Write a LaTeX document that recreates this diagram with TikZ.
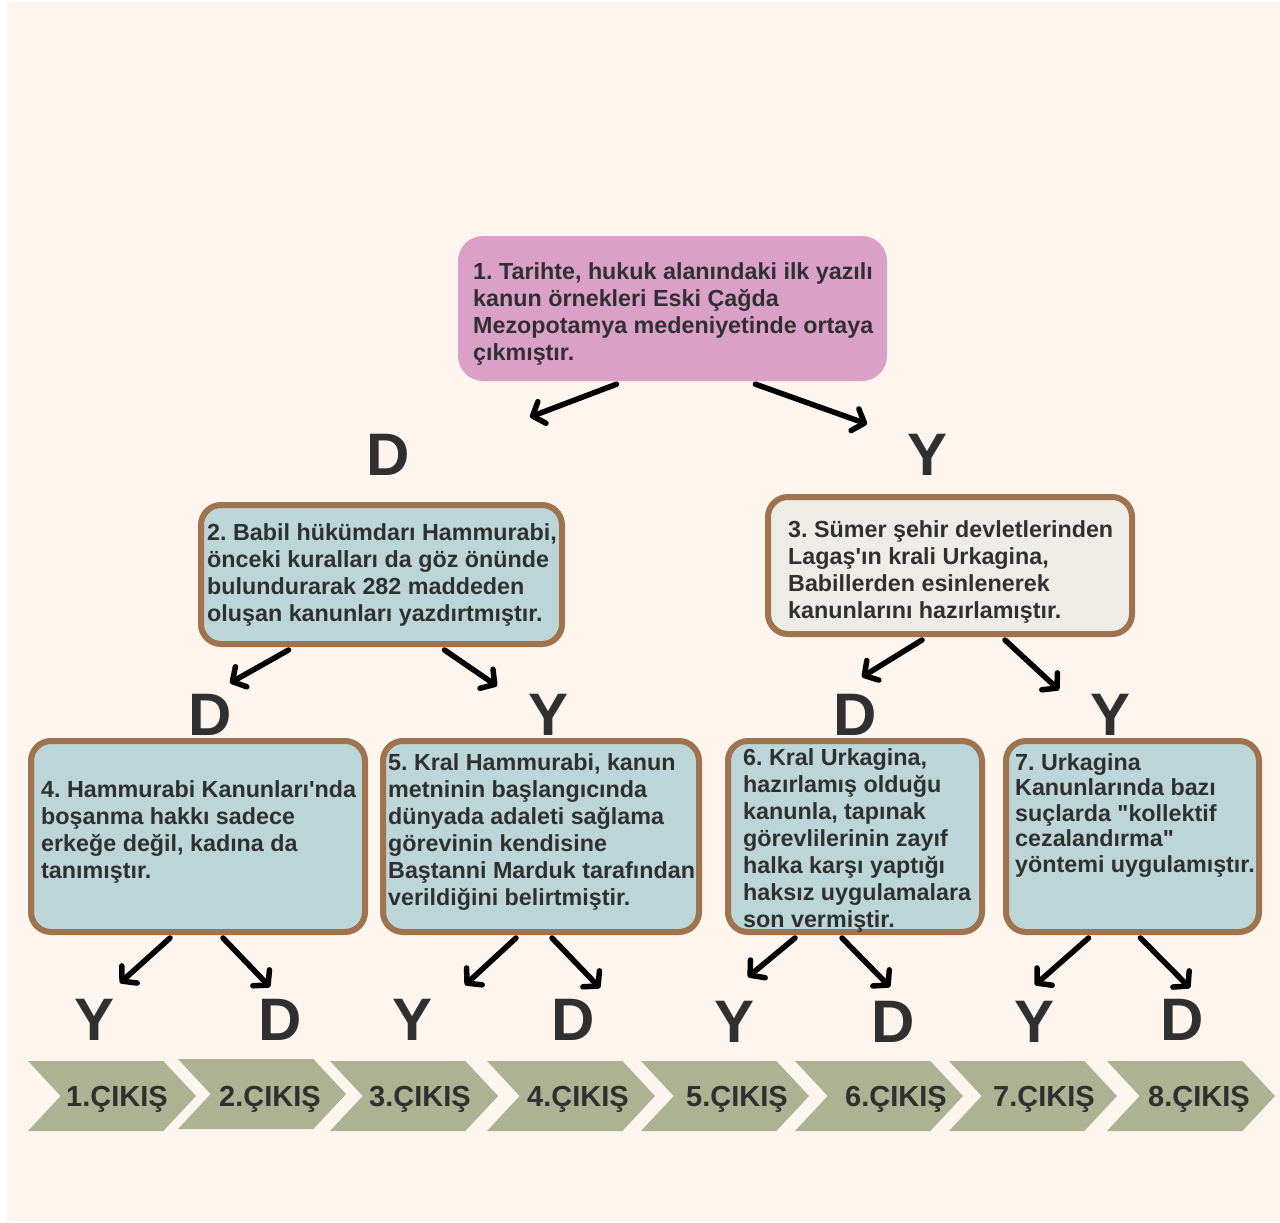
\documentclass[tikz,border=0pt]{standalone}
\usepackage{fontspec}
\setmainfont{Liberation Sans}[Ligatures=TeXOff]
\usepackage{tikz}
\usetikzlibrary{positioning,arrows.meta,calc,shapes.symbols}
\frenchspacing

\definecolor{cream}{HTML}{FEF5EE}
\definecolor{rosebox}{HTML}{DBA0C7}
\definecolor{bluebox}{HTML}{BBD5D8}
\definecolor{greybox}{HTML}{EDECE7}
\definecolor{frame}{HTML}{9E734E}
\definecolor{olive}{HTML}{ADB292}
\definecolor{ink}{HTML}{303030}

\tikzset{
  qbox/.style={draw=frame, line width=6pt, rounded corners=20pt, inner sep=0pt},
  qtext/.style={inner sep=0pt, align=left, text=ink, anchor=base west,
    font=\bfseries\fontsize{23.3}{27}\selectfont},
  answer/.style={text=ink, inner sep=0pt, font=\bfseries\fontsize{60}{60}\selectfont},
  go/.style={line width=5.5pt, line cap=round,
    -{Straight Barb[length=10pt,width=23pt,round]}},
  exit/.style={shape=signal, signal from=west, signal to=east,
    signal pointer angle=94, fill=olive, minimum width=168pt,
    minimum height=70pt, inner sep=0pt},
  exitlabel/.style={text=ink, inner sep=0pt, text depth=0pt,
    font=\bfseries\fontsize{29}{29}\selectfont}
}

\begin{document}
\begin{tikzpicture}[x=1pt, y=-1pt]

  \useasboundingbox (0,0) rectangle (1280,1223);
  \fill[white] (0,0) rectangle (1280,1223);
  \fill[cream] (7,2) rectangle (1280,1221);

  % question boxes
  \node[fill=rosebox, rounded corners=25pt, inner sep=0pt,
    minimum width=429pt, minimum height=145pt] (b1) at (672.5,308.5) {};
  \node[qbox, fill=bluebox, minimum width=361pt, minimum height=139pt] (b2) at (381.5,574.5) {};
  \node[qbox, fill=greybox, minimum width=364pt, minimum height=137pt] (b3) at (950,565.5) {};
  \node[qbox, fill=bluebox, minimum width=334pt, minimum height=191pt] (b4) at (198,836.5) {};
  \node[qbox, fill=bluebox, minimum width=316pt, minimum height=191pt] (b5) at (541,836.5) {};
  \node[qbox, fill=bluebox, minimum width=254pt, minimum height=191pt] (b6) at (855,836.5) {};
  \node[qbox, fill=bluebox, minimum width=253pt, minimum height=191pt] (b7) at (1132.5,836.5) {};

  % texts, placed at the baseline of their last line
  \node[qtext] (t1) at (473,360) {1. Tarihte, hukuk alanındaki ilk yazılı\\
    kanun örnekleri Eski Çağda\\
    Mezopotamya medeniyetinde ortaya\\
    çıkmıştır.};
  \node[qtext] (t2) at (207,621) {2. Babil hükümdarı Hammurabi,\\
    önceki kuralları da göz önünde\\
    bulundurarak 282 maddeden\\
    oluşan kanunları yazdırtmıştır.};
  \node[qtext] (t3) at (788,618) {3. Sümer şehir devletlerinden\\
    Lagaş'ın krali Urkagina,\\
    Babillerden esinlenerek\\
    kanunlarını hazırlamıştır.};
  \node[qtext] (t4) at (41,878) {4. Hammurabi Kanunları'nda\\
    boşanma hakkı sadece\\
    erkeğe değil, kadına da\\
    tanımıştır.};
  \node[qtext] (t5) at (388,905) {5. Kral Hammurabi, kanun\\
    metninin başlangıcında\\
    dünyada adaleti sağlama\\
    görevinin kendisine\\
    Baştanni Marduk tarafından\\
    verildiğini belirtmiştir.};
  \node[qtext] (t6) at (743,927) {6. Kral Urkagina,\\
    hazırlamış olduğu\\
    kanunla, tapınak\\
    görevlilerinin zayıf\\
    halka karşı yaptığı\\
    haksız uygulamalara\\
    son vermiştir.};
  \node[qtext, font=\bfseries\fontsize{23.3}{25.5}\selectfont] (t7) at (1015,872) {7. Urkagina\\
    Kanunlarında bazı\\
    suçlarda "kollektif\\
    cezalandırma"\\
    yöntemi uygulamıştır.};

  % answers
  \node[answer] (l1) at (388,455) {D};
  \node[answer] (l2) at (927,455) {Y};
  \node[answer] (l3) at (210,715) {D};
  \node[answer] (l4) at (549,715) {Y};
  \node[answer] (l5) at (855,715) {D};
  \node[answer] (l6) at (1110,715) {Y};
  \node[answer] (l7) at (95,1020) {Y};
  \node[answer] (l8) at (280,1020) {D};
  \node[answer] (l9) at (413,1020) {Y};
  \node[answer] (l10) at (573,1020) {D};
  \node[answer] (l11) at (735,1022) {Y};
  \node[answer] (l12) at (893,1022) {D};
  \node[answer] (l13) at (1034,1022) {Y};
  \node[answer] (l14) at (1182,1020) {D};

  % arrow ends
  \coordinate (a1) at (530,417);
  \coordinate (a2) at (867,424);
  \coordinate (a3) at (230,683);
  \coordinate (a4) at (497,686);
  \coordinate (a5) at (862,677);
  \coordinate (a6) at (1059,690);
  \coordinate (a7) at (120,983);
  \coordinate (a8) at (270,987);
  \coordinate (a9) at (465,985);
  \coordinate (a10) at (600,988);
  \coordinate (a11) at (748,977);
  \coordinate (a12) at (890,987);
  \coordinate (a13) at (1035,985);
  \coordinate (a14) at (1190,988);

  \path[go] ([xshift=-56pt,yshift=-3pt]b1.south) edge (a1);
  \path[go] ([xshift=83pt,yshift=-3pt]b1.south) edge (a2);
  \path[go] ([xshift=-93pt,yshift=-3pt]b2.south) edge (a3);
  \path[go] ([xshift=63pt,yshift=-3pt]b2.south) edge (a4);
  \path[go] ([xshift=-28pt,yshift=-3pt]b3.south) edge (a5);
  \path[go] ([xshift=55pt,yshift=-3pt]b3.south) edge (a6);
  \path[go] ([xshift=-28pt,yshift=-3pt]b4.south) edge (a7);
  \path[go] ([xshift=25pt,yshift=-3pt]b4.south) edge (a8);
  \path[go] ([xshift=-25pt,yshift=-3pt]b5.south) edge (a9);
  \path[go] ([xshift=11pt,yshift=-3pt]b5.south) edge (a10);
  \path[go] ([xshift=-60pt,yshift=-3pt]b6.south) edge (a11);
  \path[go] ([xshift=-13pt,yshift=-3pt]b6.south) edge (a12);
  \path[go] ([xshift=-44pt,yshift=-3pt]b7.south) edge (a13);
  \path[go] ([xshift=8pt,yshift=-3pt]b7.south) edge (a14);

  % exits
  \node[exit, label={[exitlabel, xshift=5pt]center:1.ÇIKIŞ}] (e1) at (112,1096) {};
  \node[exit, label={[exitlabel, xshift=8pt, yshift=-2pt]center:2.ÇIKIŞ}] (e2) at (262,1094) {};
  \node[exit, label={[exitlabel, xshift=6pt]center:3.ÇIKIŞ}] (e3) at (414,1096) {};
  \node[exit, label={[exitlabel, xshift=7pt]center:4.ÇIKIŞ}] (e4) at (571,1096) {};
  \node[exit, label={[exitlabel, xshift=12pt]center:5.ÇIKIŞ}] (e5) at (725,1096) {};
  \node[exit, label={[exitlabel, xshift=17pt]center:6.ÇIKIŞ}] (e6) at (879,1096) {};
  \node[exit, label={[exitlabel, xshift=11pt]center:7.ÇIKIŞ}] (e7) at (1033,1096) {};
  \node[exit, label={[exitlabel, xshift=8pt]center:8.ÇIKIŞ}] (e8) at (1191,1096) {};

\end{tikzpicture}
\end{document}
